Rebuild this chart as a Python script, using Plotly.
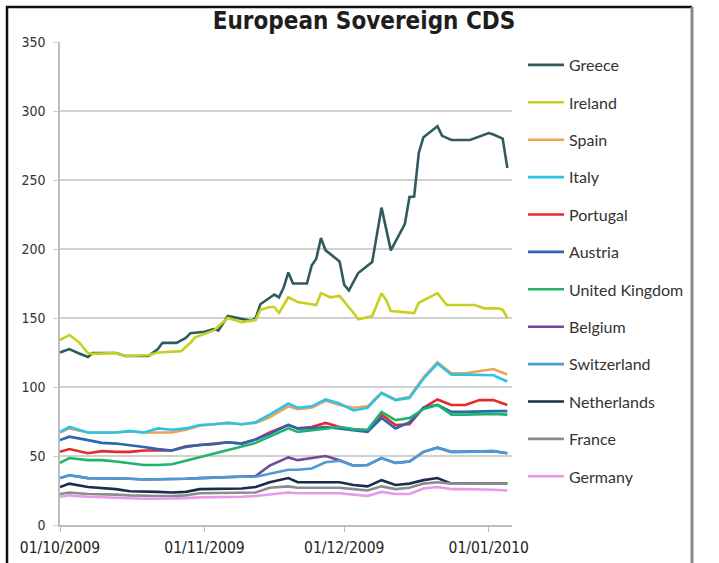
import plotly.graph_objects as go

title_text = "European Sovereign CDS"
country_names = ["Greece", "Ireland", "Spain", "Italy", "Portugal", "Austria",
                 "United Kingdom", "Belgium", "Switzerland", "Netherlands", "France", "Germany"]
y_ticks = [0, 50, 100, 150, 200, 250, 300, 350]
x_ticks = ["2009-10-01", "2009-11-01", "2009-12-01", "2010-01-01"]

greece_dates = ["2009-10-01", "2009-10-03", "2009-10-05", "2009-10-07", "2009-10-08", "2009-10-13",
                "2009-10-15", "2009-10-20", "2009-10-22", "2009-10-23", "2009-10-26", "2009-10-28",
                "2009-10-29", "2009-11-01", "2009-11-03", "2009-11-04", "2009-11-06", "2009-11-11",
                "2009-11-12", "2009-11-13", "2009-11-16", "2009-11-17", "2009-11-18", "2009-11-19",
                "2009-11-20", "2009-11-23", "2009-11-24", "2009-11-25", "2009-11-26", "2009-11-27",
                "2009-11-30", "2009-12-01", "2009-12-02", "2009-12-04", "2009-12-07", "2009-12-09",
                "2009-12-11", "2009-12-14", "2009-12-15", "2009-12-16", "2009-12-17", "2009-12-18",
                "2009-12-21", "2009-12-22", "2009-12-24", "2009-12-28", "2010-01-01", "2010-01-02",
                "2010-01-04", "2010-01-05"]
greece = [125, 127.5, 124.5, 121.7, 124.6, 124.6,
          122.5, 122.5, 127.5, 132, 132, 135.5,
          139, 140, 142, 141, 151.4, 148,
          150, 160, 167, 165, 172, 183,
          175, 175, 188, 193, 208, 199,
          191, 174, 170, 182.6, 190.6, 230,
          199, 218, 237.7, 238, 269.6, 281,
          289, 282, 279, 279, 284, 283,
          280, 258.7]

ireland_dates = ["2009-10-01", "2009-10-03", "2009-10-05", "2009-10-07", "2009-10-08", "2009-10-13",
                 "2009-10-15", "2009-10-20", "2009-10-22", "2009-10-27", "2009-10-29", "2009-10-30",
                 "2009-11-03", "2009-11-06", "2009-11-09", "2009-11-12", "2009-11-13", "2009-11-15",
                 "2009-11-16", "2009-11-17", "2009-11-19", "2009-11-21", "2009-11-25", "2009-11-26",
                 "2009-11-28", "2009-11-30", "2009-12-03", "2009-12-04", "2009-12-07", "2009-12-09",
                 "2009-12-10", "2009-12-11", "2009-12-16", "2009-12-17", "2009-12-21", "2009-12-23",
                 "2009-12-29", "2009-12-31", "2010-01-03", "2010-01-04", "2010-01-05"]
ireland = [134, 137.7, 132.6, 124.6, 124, 124.6,
           122.5, 123, 125, 126, 132, 136,
           141, 150, 147, 148.5, 156, 158,
           158, 153.6, 165, 161.6, 159.4, 168,
           165, 166, 153.6, 149, 151.4, 168,
           163, 155, 153.6, 161, 168, 159.4,
           159.4, 157, 157, 156, 150]

dates = ["2009-10-01", "2009-10-03", "2009-10-07", "2009-10-10", "2009-10-13", "2009-10-16",
         "2009-10-19", "2009-10-22", "2009-10-25", "2009-10-28", "2009-10-31", "2009-11-03",
         "2009-11-06", "2009-11-09", "2009-11-12", "2009-11-15", "2009-11-19", "2009-11-21",
         "2009-11-24", "2009-11-27", "2009-11-30", "2009-12-03", "2009-12-06", "2009-12-09",
         "2009-12-12", "2009-12-15", "2009-12-18", "2009-12-21", "2009-12-24", "2009-12-27",
         "2009-12-30", "2010-01-02", "2010-01-05"]

spain = [67, 70, 67, 67, 67, 68, 67, 67, 67, 69, 72, 73, 74, 73, 74, 78, 86, 84, 85, 90, 87,
         85, 86, 96, 91, 93, 107, 118, 110, 110, 111.5, 113, 109]
italy = [67.5, 71, 67, 67, 67, 68, 67, 70, 69, 70, 72.5, 73, 74, 73, 74.5, 80, 88, 85, 86, 91, 88,
         83, 85, 95.5, 90.5, 92, 106, 117, 109, 109, 109, 108.5, 104]
portugal = [53, 55, 52, 53.5, 53, 53, 54, 54, 54, 57, 58, 59, 60, 59, 62, 67, 72.5, 70, 71, 74, 71,
            69, 68, 80, 72.5, 73, 85, 91, 87, 87, 90.5, 90.5, 87]
austria = [61.5, 64, 61.5, 59.5, 59, 58, 56.5, 55, 54, 56.5, 58, 58.5, 60, 59, 62, 66, 72.5, 70, 70,
           71, 70, 69, 67.5, 77.5, 70, 74.5, 85, 87, 82, 82, 82.5, 82.5, 82.5]
uk = [45, 48.5, 47, 47, 46, 44.5, 43.5, 43.5, 44, 46.5, 49, 51.5, 54, 56.5, 59.5, 64, 70, 67.5, 68.5,
      70, 71, 69.5, 69, 82, 76, 77.5, 84, 87, 80, 80, 80.5, 80.5, 80]
belgium = [34, 36, 34, 34, 34, 33.5, 33, 33, 33, 33.5, 34, 34.5, 35, 35, 35.5, 43, 49, 47, 48.5, 50,
           47, 43, 43.5, 48.5, 45, 46, 53, 56, 53, 53, 53, 53.5, 52]
switzerland = [34, 36, 34, 34, 34, 33.5, 33, 33, 33, 33.5, 34, 34.5, 35, 35, 35, 37, 40, 40, 41, 45.5,
               46.5, 43, 43.5, 48.5, 45, 46, 53, 56, 53, 53, 53, 53.5, 52]
netherlands = [27.5, 30, 27.5, 27, 26, 24.5, 24.5, 24, 23.5, 24, 26, 26, 26.5, 26.5, 27.5, 31, 34, 31,
               31, 31, 31, 29, 28, 32.5, 29, 30, 32.5, 34, 30, 30, 30, 30, 30]
france = [22.5, 23.5, 22.5, 22.5, 22, 21.5, 21, 21, 21, 21.5, 23, 23, 23, 23, 23.5, 27, 28, 27, 27, 27,
          27, 26, 25, 28, 26, 27, 30, 31, 30, 30, 30, 30, 30]
germany = [20.5, 21.5, 20.5, 20, 20, 19.5, 19, 19, 19, 19.5, 20, 20, 20.5, 20.5, 21, 22, 23.5, 23, 23,
           23, 23, 22, 21, 24, 22.5, 22.5, 26.5, 27.5, 26, 26, 26, 25.5, 25]

colors = ["#2f5b5e", "#c6d11f", "#f0a254", "#2cc3e8", "#e52a2c", "#2a67b3",
          "#1db46c", "#74489d", "#4c9bd2", "#1b2c4c", "#8c8c8c", "#e79ae9"]

series_x = [greece_dates, ireland_dates] + [dates] * 10
series_y = [greece, ireland, spain, italy, portugal, austria, uk, belgium, switzerland,
            netherlands, france, germany]

fig = go.Figure()
for name, xs, ys, col in zip(country_names, series_x, series_y, colors):
    fig.add_trace(go.Scatter(x=xs, y=ys, name=name, mode="lines", legendgroup=name,
                             line=dict(color=col, width=2.6)))

# plot area: x 60..512, y 42..525 (px)
L, T, W, H = 60, 42, 452, 483
def px(X):
    return (X - L) / W
def py(Y):
    return (T + H - Y) / H

narrow = "DejaVu Sans Condensed, Liberation Sans Narrow, Arial Narrow, sans-serif"

fig.update_layout(
    width=719, height=563,
    margin=dict(l=L, r=719 - L - W, t=T, b=563 - T - H, autoexpand=False),
    paper_bgcolor="white", plot_bgcolor="white",
    title=dict(text=title_text, x=364 / 719, xanchor="center", y=1 - 21 / 563, yanchor="middle",
               font=dict(family=narrow, size=24, color="#1e1e1e", weight="bold")),
    legend=dict(x=px(523), xanchor="left", y=py(48), yanchor="top",
                tracegroupgap=13.6, itemwidth=36, bgcolor="rgba(0,0,0,0)",
                font=dict(family="Lato, Noto Sans, sans-serif", size=16, color="#333333")),
    showlegend=True,
)
fig.update_xaxes(range=["2009-10-01", "2010-01-06"], tickvals=x_ticks, tickformat="%d/%m/%Y",
                 showgrid=False, showline=True, linecolor="#bdbdbd", linewidth=1.5,
                 ticks="outside", ticklen=5, tickcolor="#bdbdbd", automargin=False,
                 ticklabelstandoff=3,
                 tickfont=dict(family=narrow, size=15.5, color="#222222"))
fig.update_yaxes(range=[0, 350], tickvals=y_ticks, showgrid=True, gridcolor="#d0d0d0", gridwidth=1.5,
                 zeroline=False, showline=True, linecolor="#bdbdbd", linewidth=1.5,
                 ticks="outside", ticklen=5, tickcolor="#d0d0d0", automargin=False,
                 ticklabelstandoff=5,
                 tickfont=dict(family=narrow, size=14, color="#333333"))

# outer frame of the picture
fig.add_shape(type="line", xref="paper", yref="paper", x0=px(7), x1=px(7), y0=py(6), y1=py(563),
              line=dict(color="#111111", width=2.5))
fig.add_shape(type="line", xref="paper", yref="paper", x0=px(6), x1=px(692), y0=py(7), y1=py(7),
              line=dict(color="#111111", width=2.5))
fig.add_shape(type="line", xref="paper", yref="paper", x0=px(692), x1=px(692), y0=py(7), y1=py(563),
              line=dict(color="#8a8a8a", width=3))

fig.write_html("out.html", config={"displayModeBar": False},
               post_script="document.body.style.margin='0';")
